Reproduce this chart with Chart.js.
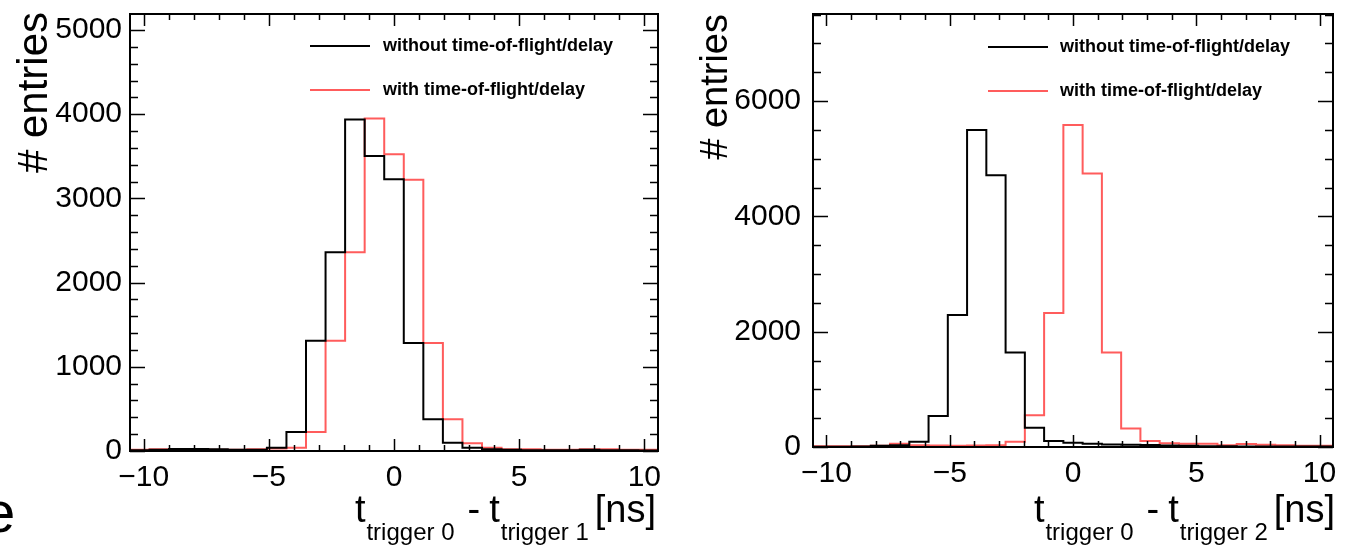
<!DOCTYPE html>
<html>
<head>
<meta charset="utf-8">
<script src="https://cdn.jsdelivr.net/npm/chart.js@4.4.0/dist/chart.umd.min.js"></script>
<style>
body { margin: 0; background: #fff; width: 1345px; height: 548px; overflow: hidden; position: relative; font-family: "Liberation Sans", Arial, sans-serif; }
canvas { position: absolute; top: 0; }
#left { left: 0; }
#right { left: 680px; }
.frag { position: absolute; left: -17px; top: 483px; font-size: 58px; line-height: 58px; color: #000; }
</style>
</head>
<body>
<canvas id="left" width="680" height="548"></canvas>
<canvas id="right" width="665" height="548"></canvas>
<div class="frag">e</div>
<script>
// 27 bins of 0.78125 ns, centred on k*0.78125 for k = -13..13
const binWidth = 0.78125;
const xLow = -13.5 * binWidth;

const seriesNames = ['without time-of-flight/delay', 'with time-of-flight/delay'];

// trigger 0 - trigger 1
const left_without = [10, 15, 25, 25, 20, 15, 15, 40, 226, 1310, 2361, 3937, 3504, 3226, 1282, 377, 99, 40, 20, 15, 10, 10, 10, 15, 10, 10, 5];
const left_with = [15, 20, 20, 20, 15, 15, 20, 30, 40, 226, 1310, 2361, 3950, 3524, 3222, 1282, 377, 91, 40, 20, 20, 15, 15, 20, 20, 15, 15];

// trigger 0 - trigger 2
const right_without = [5, 5, 10, 20, 30, 93, 539, 2290, 5496, 4713, 1640, 336, 104, 75, 58, 45, 40, 35, 25, 20, 15, 15, 10, 10, 10, 10, 10];
const right_with = [15, 15, 15, 20, 58, 30, 25, 20, 25, 30, 93, 551, 2325, 5583, 4742, 1640, 319, 104, 64, 55, 55, 30, 50, 40, 30, 20, 20];

const xTicks = [-10, -5, 0, 5, 10];
const leftYTicks = [0, 1000, 2000, 3000, 4000, 5000];
const rightYTicks = [0, 2000, 4000, 6000];

const FONT = '"Liberation Sans", Arial, Helvetica, sans-serif';
const RED = 'rgb(255, 92, 92)';

function histPoints(counts) {
  const pts = counts.map((c, i) => ({ x: xLow + i * binWidth, y: c }));
  pts.push({ x: xLow + counts.length * binWidth, y: counts[counts.length - 1] });
  return pts;
}

// ROOT-like frame: ticks inside on all four sides, legend, axis titles
const rootFrame = {
  id: 'rootFrame',
  afterDatasetsDraw(chart, args, opts) {
    const ctx = chart.ctx;
    const a = chart.chartArea;
    const x = chart.scales.x, y = chart.scales.y;
    ctx.save();
    ctx.strokeStyle = '#000';
    ctx.lineWidth = 1.5;
    ctx.beginPath();
    for (let v = Math.ceil(x.min); v <= x.max; v++) {
      const px = Math.round(x.getPixelForValue(v)) + 0.5;
      const len = v % 5 === 0 ? 12 : 6;
      ctx.moveTo(px, a.bottom); ctx.lineTo(px, a.bottom - len);
      ctx.moveTo(px, a.top); ctx.lineTo(px, a.top + len);
    }
    for (let v = 0; v <= y.max; v += opts.minor) {
      const py = Math.round(y.getPixelForValue(v)) + 0.5;
      const len = v % opts.major === 0 ? 15 : 8;
      ctx.moveTo(a.left, py); ctx.lineTo(a.left + len, py);
      ctx.moveTo(a.right, py); ctx.lineTo(a.right - len, py);
    }
    ctx.stroke();
    ctx.lineWidth = 2;
    ctx.strokeRect(a.left, a.top, a.right - a.left, a.bottom - a.top);

    // legend
    const lg = opts.legend;
    ctx.font = 'bold 18px ' + FONT;
    ctx.textBaseline = 'middle';
    ctx.textAlign = 'left';
    chart.data.datasets.forEach((ds, i) => {
      const ly = lg.y[i];
      ctx.strokeStyle = ds.borderColor;
      ctx.lineWidth = 2;
      ctx.beginPath();
      ctx.moveTo(lg.x1, ly); ctx.lineTo(lg.x2, ly);
      ctx.stroke();
      ctx.fillStyle = '#000';
      ctx.fillText(ds.label, lg.tx, ly);
    });

    // y axis title, ends at the top of the frame
    ctx.save();
    ctx.translate(opts.yTitle.x, opts.yTitle.y);
    ctx.rotate(-Math.PI / 2);
    ctx.font = opts.yTitle.size + 'px ' + FONT;
    ctx.textAlign = 'right';
    ctx.textBaseline = 'alphabetic';
    ctx.fillText('# entries', 0, 0);
    ctx.restore();

    // x axis title  t_{trigger 0} - t_{trigger N} [ns]
    // [text, size, subscript?, gap after]
    const parts = [
      ['t', 38, 0, 1], ['trigger 0', 24, 1, 13], ['-', 38, 0, 9],
      ['t', 38, 0, 1], [opts.sub, 24, 1, 6], ['[ns]', 38, 0, 0]
    ];
    let total = 0;
    parts.forEach(p => { ctx.font = p[1] + 'px ' + FONT; total += ctx.measureText(p[0]).width + p[3]; });
    let tx = a.right + opts.titleShift - total;
    ctx.fillStyle = '#000';
    ctx.textAlign = 'left';
    ctx.textBaseline = 'alphabetic';
    parts.forEach(p => {
      ctx.font = p[1] + 'px ' + FONT;
      ctx.fillText(p[0], tx, p[2] ? 540 : 522);
      tx += ctx.measureText(p[0]).width + p[3];
    });
    ctx.restore();
  }
};

function makeChart(id, without, withTof, yMax, yTicks, yMajor, yMinor, frame) {
  return new Chart(document.getElementById(id), {
    type: 'line',
    data: {
      datasets: [
        { label: seriesNames[0], data: histPoints(without), borderColor: '#000', borderWidth: 2, stepped: 'before', pointRadius: 0, fill: false },
        { label: seriesNames[1], data: histPoints(withTof), borderColor: RED, borderWidth: 2, stepped: 'before', pointRadius: 0, fill: false }
      ]
    },
    options: {
      responsive: false,
      animation: false,
      layout: { padding: { left: 0, top: 14, right: frame.padRight, bottom: 0 } },
      plugins: {
        legend: { display: false },
        tooltip: { enabled: false },
        rootFrame: { major: yMajor, minor: yMinor, legend: frame.legend, sub: frame.sub, titleShift: frame.titleShift, yTitle: frame.yTitle }
      },
      scales: {
        x: {
          type: 'linear',
          min: xLow, max: -xLow,
          grid: { display: false, drawTicks: false },
          border: { display: false },
          afterBuildTicks: s => { s.ticks = xTicks.map(v => ({ value: v })); },
          afterFit: s => { s.height = frame.xHeight; s.paddingLeft = 0; s.paddingRight = 0; },
          ticks: {
            color: '#000', padding: 9, maxRotation: 0, autoSkip: false,
            font: { family: FONT, size: 30 },
            callback: v => (v < 0 ? '\u2212' + Math.abs(v) : '' + v)
          }
        },
        y: {
          min: 0, max: yMax,
          grid: { display: false, drawTicks: false },
          border: { display: false },
          afterBuildTicks: s => { s.ticks = yTicks.map(v => ({ value: v })); },
          afterFit: s => { s.width = frame.yWidth; s.paddingTop = 0; s.paddingBottom = 0; },
          ticks: { color: '#000', padding: frame.tickPad, font: { family: FONT, size: 30 }, callback: v => '' + v }
        }
      }
    },
    plugins: [rootFrame]
  });
}

makeChart('left', left_without, left_with, 5190, leftYTicks, 1000, 200, {
  padRight: 22, xHeight: 97, yWidth: 130, tickPad: 8, sub: 'trigger 1', titleShift: -2,
  yTitle: { x: 47, y: 12, size: 42 },
  legend: { x1: 310, x2: 370, tx: 383, y: [46, 90] }
});

makeChart('right', right_without, right_with, 7510, rightYTicks, 2000, 500, {
  padRight: 12, xHeight: 101, yWidth: 133, tickPad: 12, sub: 'trigger 2', titleShift: 2,
  yTitle: { x: 47, y: 14, size: 38 },
  legend: { x1: 308, x2: 368, tx: 380, y: [47, 91] }
});
</script>
</body>
</html>
